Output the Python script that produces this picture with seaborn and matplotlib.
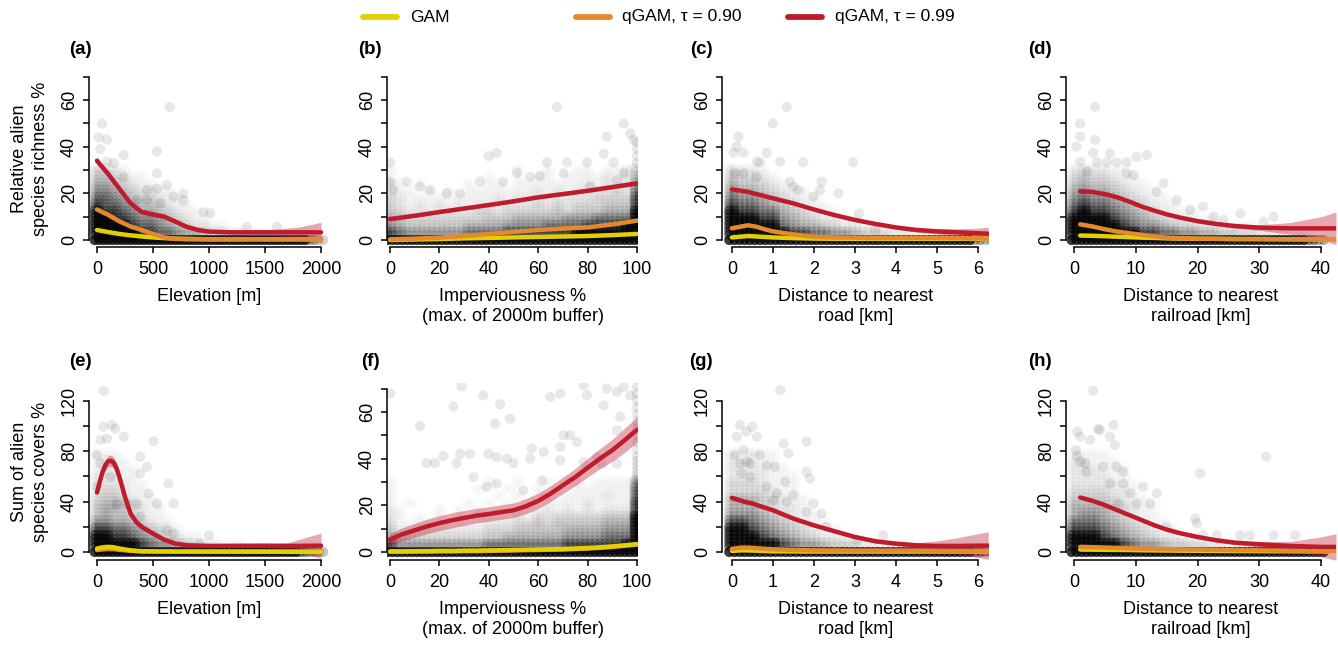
import matplotlib
matplotlib.use("Agg")
import matplotlib.pyplot as plt
import seaborn as sns
import numpy as np
from matplotlib.lines import Line2D

sns.set_style("ticks")
plt.rcParams['font.family'] = ['Liberation Sans', 'DejaVu Sans']
plt.rcParams['text.color'] = 'black'
plt.rcParams['axes.labelcolor'] = 'black'
plt.rcParams['axes.edgecolor'] = 'black'
plt.rcParams['xtick.color'] = 'black'
plt.rcParams['ytick.color'] = 'black'

# ---------------- legend ----------------
legend_labels = ["GAM", "qGAM, \u03c4 = 0.90", "qGAM, \u03c4 = 0.99"]
C_GAM, C_Q90, C_Q99 = "#E3D000", "#E48A2E", "#BF1B2C"

# ---------------- axis texts ----------------
panel_letters = ["(a)", "(b)", "(c)", "(d)", "(e)", "(f)", "(g)", "(h)"]
xlabels = ["Elevation [m]", "Imperviousness %\n(max. of 2000m buffer)",
           "Distance to nearest\nroad [km]", "Distance to nearest\nrailroad [km]"]
ylabels = ["Relative alien\nspecies richness %", "Sum of alien\nspecies covers %"]
xticks = [[0, 500, 1000, 1500, 2000], [0, 20, 40, 60, 80, 100],
          [0, 1, 2, 3, 4, 5, 6], [0, 10, 20, 30, 40]]

# ---------------- curves: (a) ----------------
a_x = [0, 100, 200, 300, 400, 500, 600, 700, 800, 900, 1000, 1200, 1500, 1800, 2000]
a_q99 = [34, 28.3, 22, 15.7, 12, 11, 10, 7.9, 5.7, 4.3, 3.6, 3.3, 3.3, 3.3, 3.3]
a_q99_hw = [1.5, 1.2, 1.0, 1.0, 1.0, 1.0, 1.0, 1.0, 0.9, 0.8, 0.8, 0.8, 1.0, 2.2, 4.3]
a_q90 = [13.1, 10.8, 8.0, 5.8, 4.3, 2.6, 1.1, 0.5, 0.3, 0.3, 0.3, 0.3, 0.3, 0.3, 0.3]
a_gam = [4.3, 3.4, 2.6, 2.0, 1.5, 1.1, 0.8, 0.6, 0.5, 0.4, 0.3, 0.3, 0.3, 0.3, 0.3]
# ---------------- curves: (b) ----------------
b_x = [0, 10, 20, 30, 40, 50, 60, 70, 80, 90, 100]
b_q99 = [9.0, 10.4, 12.0, 13.5, 15.0, 16.6, 18.3, 19.7, 21.1, 22.7, 24.3]
b_q99_hw = [0.8, 0.7, 0.7, 0.7, 0.7, 0.7, 0.7, 0.7, 0.7, 0.8, 0.9]
b_q90 = [0.3, 0.6, 1.0, 1.7, 2.6, 3.5, 4.3, 4.9, 5.4, 6.7, 8.3]
b_gam = [0.0, 0.2, 0.4, 0.7, 0.9, 1.1, 1.3, 1.5, 1.7, 2.1, 2.6]
# ---------------- curves: (c) ----------------
c_x = [0, 0.2, 0.4, 0.6, 0.8, 1.0, 1.5, 2.0, 2.5, 3.0, 3.5, 4.0, 4.5, 5.0, 5.5, 6.0, 6.25]
c_q99 = [21.7, 21.2, 20.6, 19.7, 18.8, 17.9, 15.7, 13.1, 10.7, 8.6, 6.9, 5.4, 4.3, 3.7, 3.3, 2.9, 2.7]
c_q99_hw = [0.8, 0.7, 0.7, 0.7, 0.7, 0.7, 0.7, 0.7, 0.7, 0.7, 0.8, 0.8, 0.9, 1.1, 1.5, 2.2, 2.8]
c_q90 = [5.0, 5.7, 6.3, 5.7, 4.6, 3.7, 2.4, 1.4, 1.1, 1.0, 0.9, 0.9, 0.9, 0.9, 0.8, 0.7, 0.6]
c_gam = [1.1, 1.4, 1.7, 1.5, 1.3, 1.1, 0.8, 0.6, 0.5, 0.5, 0.5, 0.5, 0.5, 0.5, 0.5, 0.5, 0.5]
# ---------------- curves: (d) ----------------
d_x = [1, 3, 5, 7, 9, 11, 13, 15, 17, 20, 23, 26, 30, 35, 40, 42.4]
d_q99 = [20.9, 20.6, 19.7, 18.3, 16.4, 14.3, 12.6, 11.0, 9.7, 8.1, 6.9, 6.0, 5.3, 5.0, 5.0, 5.0]
d_q99_hw = [0.8, 0.7, 0.7, 0.7, 0.7, 0.7, 0.7, 0.7, 0.7, 0.8, 0.8, 0.9, 1.2, 2.5, 5.0, 7.0]
d_q90 = [6.7, 5.8, 4.6, 3.6, 2.9, 2.2, 1.6, 1.0, 0.8, 0.6, 0.5, 0.4, 0.4, 0.3, 0.3, 0.3]
d_gam = [1.9, 1.8, 1.6, 1.4, 1.2, 1.0, 0.9, 0.7, 0.6, 0.5, 0.5, 0.4, 0.4, 0.3, 0.3, 0.3]
# ---------------- curves: (e) ----------------
e_x = [0, 25, 50, 75, 100, 125, 150, 175, 200, 250, 300, 350, 400, 500, 600, 700, 800, 1000, 1500, 1700, 2000]
e_q99 = [47.3, 55.7, 63.7, 69, 72.2, 72.5, 70.9, 66.4, 59.7, 43.8, 30.5, 23.9, 19.9, 14.6, 9.8, 6.6, 5.3, 4.8, 5.0, 4.8, 5.0]
e_q99_hw = [3, 3, 3.5, 4, 4.5, 4.5, 4.5, 4, 4, 3.5, 3, 2.5, 2, 1.5, 1.5, 1.2, 1, 1, 1.2, 2.5, 10]
e_q90 = [1.5, 1.8, 2.0, 2.2, 2.3, 2.3, 2.2, 2.0, 1.7, 1.3, 0.9, 0.6, 0.4, 0.3, 0.3, 0.3, 0.3, 0.3, 0.3, 0.3, 0.3]
e_gam = [2.7, 3.2, 3.6, 3.9, 4.0, 3.9, 3.7, 3.2, 2.7, 2.0, 1.3, 0.9, 0.6, 0.5, 0.4, 0.3, 0.3, 0.3, 0.2, 0.1, 0.0]
# ---------------- curves: (f) ----------------
f_x = [0, 5, 10, 15, 20, 25, 30, 35, 40, 45, 50, 55, 60, 65, 70, 75, 80, 85, 90, 95, 100]
f_q99 = [5.4, 7.6, 9.3, 11.0, 12.4, 13.6, 14.6, 15.6, 16.3, 17.1, 17.9, 19.6, 21.9, 25.0, 28.6, 32.1, 36.1, 40.0, 43.6, 47.9, 52.4]
f_q99_hw = [2.5, 2.8, 3.0, 3.1, 3.2, 3.2, 3.2, 3.1, 3.1, 3.1, 3.1, 3.2, 3.3, 3.4, 3.5, 3.7, 4.0, 4.3, 4.7, 5.2, 5.4]
f_q90 = [0.1, 0.1, 0.2, 0.2, 0.3, 0.3, 0.4, 0.4, 0.5, 0.6, 0.7, 0.8, 0.9, 1.0, 1.1, 1.3, 1.5, 1.8, 2.2, 2.7, 3.2]
f_gam = [0.3, 0.3, 0.4, 0.4, 0.5, 0.5, 0.6, 0.6, 0.7, 0.8, 0.9, 1.0, 1.1, 1.2, 1.3, 1.5, 1.7, 2.0, 2.4, 2.9, 3.4]
# ---------------- curves: (g) ----------------
g_x = [0, 0.15, 0.3, 0.5, 0.75, 1.0, 1.5, 2.0, 2.5, 3.0, 3.5, 4.0, 4.5, 5.0, 5.5, 6.0, 6.25]
g_q99 = [43, 41.5, 40, 38.5, 35.8, 33.2, 26.5, 21.2, 16.5, 11.9, 8.5, 6.6, 5.3, 4.8, 4.8, 5.0, 5.0]
g_q99_hw = [2, 1.8, 1.7, 1.6, 1.5, 1.5, 1.5, 1.5, 1.5, 1.5, 1.5, 1.5, 2, 4, 6.5, 9.5, 11]
g_q90 = [2.4, 3.1, 3.5, 3.2, 2.6, 2.1, 1.6, 1.3, 1.2, 1.1, 1.1, 1.1, 1.1, 1.0, 0.9, 0.8, 0.8]
g_gam = [0.8, 1.1, 1.3, 1.1, 0.8, 0.5, 0.4, 0.3, 0.3, 0.3, 0.3, 0.3, 0.3, 0.3, 0.3, 0.3, 0.3]
# ---------------- curves: (h) ----------------
h_x = [1, 3, 5, 7, 9, 11, 13, 15, 17, 20, 23, 26, 30, 35, 40, 42.4]
h_q99 = [43.3, 40.6, 37.2, 33.2, 29.2, 25.2, 21.2, 17.8, 15.1, 11.9, 9.3, 7.4, 6.1, 4.8, 4.0, 4.0]
h_q99_hw = [1.5, 1.4, 1.3, 1.3, 1.3, 1.3, 1.3, 1.3, 1.3, 1.3, 1.3, 1.5, 2, 3.5, 8, 10.5]
h_q90 = [4.0, 3.8, 3.5, 3.2, 2.9, 2.6, 2.4, 2.2, 2.1, 1.9, 1.7, 1.5, 1.3, 1.0, 0.8, 0.8]
h_gam = [1.9, 1.8, 1.7, 1.6, 1.5, 1.3, 1.2, 1.1, 1.0, 0.9, 0.8, 0.7, 0.6, 0.5, 0.4, 0.4]

# ---------------- sparse observations (outlying points) ----------------
a_pts_x = [650, 45, 15, 89, 535, 238, 30, 89, 149, 238, 535, 446, 535, 624, 773, 773, 951, 1010, 1337, 1605, 446, 357, 683, 565]
a_pts_y = [57, 50, 44, 43, 38, 36.4, 39, 33.6, 33, 27, 28.6, 21.4, 22, 23.6, 17, 20, 12, 11.4, 5.7, 5.7, 17.1, 17, 18.6, 15.7]
b_pts_x = [67.6, 94.6, 87.8, 98.6, 39.9, 43.2, 0, 71.6, 63.5, 79.7, 90.5, 86.5, 51.4, 56.8, 60.8, 6.8, 12.2, 16.2, 23, 28.4, 36.5, 45.9, 0, 1.4, 91.9, 70.3, 81, 94.6, 97.3, 100, 100, 100, 100]
b_pts_y = [57, 50, 44.3, 42.9, 36, 37.4, 33.3, 33.3, 33.3, 33.3, 33.3, 37, 28.9, 27.1, 27.4, 25, 22.9, 21.4, 20, 20, 25, 25, 25, 21.4, 25.7, 28.6, 22.9, 28.6, 45.7, 33, 36, 39, 42]
c_pts_x = [1.34, 1.0, 0.16, 0.12, 0.04, 0.28, 0.61, 0.69, 0.85, 1.74, 1.18, 2.96, 0.08, 0.28, 0.61, 1.42, 2.19, 2.15, 2.6, 1.62, 1.99, 1.5, 3.1, 3.5]
c_pts_y = [57, 50, 44.3, 40, 37.4, 37.4, 33.6, 33.3, 37.4, 33.3, 33.6, 33.3, 28.6, 28.6, 27.1, 25, 25, 21.4, 20, 21.4, 18.6, 22.9, 11.4, 4.3]
d_pts_x = [3.4, 1.0, 1.0, 3.4, 0.4, 3.1, 5.8, 11.8, 10.1, 1, 3.7, 5.3, 6.9, 8.5, 2.1, 8.5, 9.6, 14.5, 13.4, 16.6, 18.8, 20.9, 26.9, 32.3, 30.7, 24.2, 22.6]
d_pts_y = [57.1, 50, 44.3, 42.9, 40, 37.4, 37, 36.4, 35.7, 33.6, 33.3, 33.3, 33.3, 33.3, 29.3, 28.6, 27.9, 24.3, 20.7, 17.1, 12.9, 14.3, 11.4, 10, 7.9, 8.6, 10]
e_pts_x = [59, 59, 134, 163, 30, 89, 238, 505, 0, 386, 446, 386, 639, 460, 535, 683, 357, 267, 178, 386, 624, 683, 1000, 920, 0, 30, 119]
e_pts_y = [128, 99.5, 101, 98, 89, 90, 91.6, 88, 77, 75.7, 67.7, 62.4, 54.4, 46.5, 38.5, 38.5, 38.5, 38.5, 38.5, 27.9, 17.3, 14.6, 13.3, 6.6, 51.8, 70.3, 59.7]
f_pts_x = [0, 29, 25.7, 12.2, 37.8, 44.6, 42.6, 48.6, 14.9, 18.2, 21.6, 28.4, 32.4, 27, 39.9, 43.2, 47.3, 50, 56.8, 62.2, 64.9, 68.9, 78.4, 79.7, 86.5, 87.8, 91.9, 94.6, 97.3, 70.3, 73, 75.7, 68.9, 57.4, 83.8, 39.2, 33.8, 43.2, 54, 61.5, 91.9, 93.2, 68.9, 78.4, 85.8, 91.9,
           100, 100, 100, 100, 100, 100, 100, 100, 100, 100, 100, 100, 100, 100, 100, 100, 100, 100, 100, 100, 100, 100]
f_pts_y = [67.9, 71, 62.4, 53.9, 67.1, 63.3, 55, 57.1, 38.1, 38.1, 41.1, 42.1, 42.1, 38.1, 42.1, 40.7, 40, 38.1, 40, 42.9, 66.4, 67.9, 71.4, 67.1, 62.9, 70, 68.6, 70.7, 67.1, 50, 50, 47.1, 45, 44.3, 40.7, 27.9, 32.1, 29.3, 26.4, 30.7, 52.1, 57.9, 39.3, 38.6, 37.9, 37.9,
           71, 68, 65, 62, 59, 56, 53, 50, 47, 44, 41, 39, 37, 35, 33, 31, 29, 27, 25, 23, 21, 13]
g_pts_x = [1.18, 0.2, 0.49, 0.36, 0.12, 0.61, 0.08, 0.28, 0.69, 0.36, 0.2, 0.45, 1.26, 1.82, 1.38, 0.85, 1.05, 0.24, 0.45, 0.85, 1.3, 1.82, 1.91, 1.01, 1.34, 1.5, 1.99, 1.82, 2.19, 2.31, 3.04, 3.69, 1.1]
g_pts_y = [128.7, 100.9, 99.5, 95.6, 91.6, 91.6, 77, 81, 77, 71.7, 70.3, 70.3, 86.3, 87.6, 78.3, 69, 67.7, 62.4, 59.7, 51.8, 55.7, 63.7, 58.4, 41.1, 39.8, 45.1, 38.5, 31.9, 30.5, 19.9, 9.3, 13.3, 46.5]
h_pts_x = [3.1, 6.4, 3.9, 4.2, 0.5, 1, 2.6, 5.8, 6.6, 0.3, 0.5, 1, 1.8, 6.9, 8, 2, 4.7, 5.8, 8, 9.1, 11.2, 13.4, 12.3, 10.1, 7.2, 20.4, 19.6, 19.9, 15, 31.1, 26.9, 28.5, 32.3, 35.8, 23.1, 20.9]
h_pts_y = [128.2, 101, 97.7, 96.9, 95.6, 91.6, 89, 91.6, 84.9, 81, 76.2, 71.7, 70.3, 67.7, 63.7, 63.7, 67.7, 54.4, 54.4, 46.5, 51.8, 46.5, 38.5, 38.5, 38.5, 62.4, 26.5, 22.6, 19.9, 75.7, 13.3, 13.3, 13.3, 13.3, 13.3, 13.3]

# ---------------- dense observations: estimated darkness per cell (0-9) ----------------
# rows run from the highest y bin (first) down to y = 0 (last)
a_xbins = [80 * i for i in range(26)]
b_xbins = [4 * i for i in range(26)]
c_xbins = [0.25 * i for i in range(26)]
d_xbins = [1.6 * i for i in range(26)]
top_ybins = [3 * i for i in range(11)]
low_ybins = [6 * i for i in range(14)]
f_ybins = [3 * i for i in range(11)]

a_dens = ["33210000000000000000000000",
          "44321100000000000000000000",
          "55432110000000000000000000",
          "66543221100000000000000000",
          "77654332110000000000000000",
          "87765443211000000000000000",
          "98876554321100000000000000",
          "99887665432110000000000000",
          "99998776543221100000000000",
          "99999887765543322111111100",
          "99999999999999999999999975"]
b_dens = ["10000000000001001001101124",
          "10000000001001011011112125",
          "21010000101101111111212226",
          "21101010111111121212222327",
          "32111111111212222222233338",
          "32121212122222232323334448",
          "43222222233233333434445559",
          "54333333334445555566677779",
          "65444444555566667777888899",
          "87666666777788888889999999",
          "99999999999999999999999999"]
c_dens = ["32210000000000000000000000",
          "43321000000000000000000000",
          "54432100000000000000000000",
          "65543211000000000000000000",
          "76654321100000000000000000",
          "87765432110000000000000000",
          "98877543211000000000000000",
          "99988654322110000000000000",
          "99999765543221100000000000",
          "99999988776654332211110000",
          "99999999999999999999999976"]
d_dens = ["23221100000000000000000000",
          "34332110000000000000000000",
          "45443211000000000000000000",
          "56554321100000000000000000",
          "67665432110000000000000000",
          "78776543211000000000000000",
          "89887654321110000000000000",
          "99998765432211100000000000",
          "99999876654332211110000000",
          "99999998877665544332221100",
          "99999999999999999999999987"]
e_dens = ["11100000000000000000000000",
          "12110000000000000000000000",
          "12111000000000000000000000",
          "22211000000000000000000000",
          "22221100000000000000000000",
          "23321100000000000000000000",
          "34432110000000000000000000",
          "45543211000000000000000000",
          "45443211000000000000000000",
          "66554321100000000000000000",
          "88776543210000000000000000",
          "99887654321100000000000000",
          "99999876654322111000000000",
          "99999999999999999999999876"]
f_dens = ["10000000001001001011011116",
          "10000000010010010101111117",
          "10000000000101011011112117",
          "10100000101010101111211118",
          "21000101010101112121212228",
          "21010101011112132333334449",
          "31111111112223343444445559",
          "42222222223334444455556669",
          "53333333334455555566667779",
          "86666666667777777788888899",
          "99999999999999999999999999"]
g_dens = ["21211000000000000000000000",
          "22211000000000000000000000",
          "22221100000000000000000000",
          "22221110000000000000000000",
          "33321110000000000000000000",
          "33332110000000000000000000",
          "55543211000000000000000000",
          "55543221000000000000000000",
          "66654321100000000000000000",
          "88765432110000000000000000",
          "99876543211000000000000000",
          "99987654322110000000000000",
          "99999876654432211000000000",
          "99999999999999999999999987"]
h_dens = ["11110000000000000000000000",
          "22111000000000000000000000",
          "22211100000000000000000000",
          "22221100000000000000000000",
          "22222110000000000000000000",
          "33332210000000000000000000",
          "44443211000000000000000000",
          "55554321100000000000000000",
          "56654321100000000000000000",
          "77765432110000000000000000",
          "88876543211000000000000000",
          "99987654322110000000000000",
          "99999876654433221110000000",
          "99999999999999999999999999"]

# darkness reached by a cell at each level
LEVEL_DARK = [0, 0.05, 0.10, 0.16, 0.23, 0.32, 0.43, 0.57, 0.75, 0.96]

W, H = 1338, 646
fig = plt.figure(figsize=(W / 100, H / 100), dpi=100)

# pixel boxes (left, top, right, bottom) and axis limits
col_px = [(89, 330), (387, 638), (722, 989), (1066, 1336)]
row_px = [(70, 247), (383, 560)]
xlims = [(-71, 2080), (-1.2, 100.4), (-0.24, 6.27), (-1.3, 42.4)]

panels = [
    dict(x=a_x, q99=a_q99, hw=a_q99_hw, q90=a_q90, gam=a_gam, px=a_pts_x, py=a_pts_y, dens=a_dens, xb=a_xbins, yb=top_ybins),
    dict(x=b_x, q99=b_q99, hw=b_q99_hw, q90=b_q90, gam=b_gam, px=b_pts_x, py=b_pts_y, dens=b_dens, xb=b_xbins, yb=top_ybins),
    dict(x=c_x, q99=c_q99, hw=c_q99_hw, q90=c_q90, gam=c_gam, px=c_pts_x, py=c_pts_y, dens=c_dens, xb=c_xbins, yb=top_ybins),
    dict(x=d_x, q99=d_q99, hw=d_q99_hw, q90=d_q90, gam=d_gam, px=d_pts_x, py=d_pts_y, dens=d_dens, xb=d_xbins, yb=top_ybins),
    dict(x=e_x, q99=e_q99, hw=e_q99_hw, q90=e_q90, gam=e_gam, px=e_pts_x, py=e_pts_y, dens=e_dens, xb=a_xbins, yb=low_ybins),
    dict(x=f_x, q99=f_q99, hw=f_q99_hw, q90=f_q90, gam=f_gam, px=f_pts_x, py=f_pts_y, dens=f_dens, xb=b_xbins, yb=f_ybins),
    dict(x=g_x, q99=g_q99, hw=g_q99_hw, q90=g_q90, gam=g_gam, px=g_pts_x, py=g_pts_y, dens=g_dens, xb=c_xbins, yb=low_ybins),
    dict(x=h_x, q99=h_q99, hw=h_q99_hw, q90=h_q90, gam=h_gam, px=h_pts_x, py=h_pts_y, dens=h_dens, xb=d_xbins, yb=low_ybins),
]

MS = 54  # marker area (pt^2)
FS_TICK, FS_LAB = 13, 13


def draw_density(ax, rows, xb, yb):
    """Each cell is drawn as a small 2x2 block of translucent discs
    (a single row of discs for the y = 0 bin)."""
    xs, ys, cols = [], [], []
    sx = xb[1] - xb[0]
    sy = yb[1] - yb[0]
    n = len(rows)
    for r, row in enumerate(rows):
        yi = n - 1 - r
        if yi == 0:
            offs = [(-sx / 4, 0), (sx / 4, 0)]
            cover = 2.2
        else:
            offs = [(-sx / 4, -sy / 4), (sx / 4, -sy / 4), (-sx / 4, sy / 4), (sx / 4, sy / 4)]
            cover = 4.5
        for i, ch in enumerate(row):
            d = int(ch)
            if d == 0:
                continue
            a = 1 - (1 - LEVEL_DARK[d]) ** (1 / cover)
            for ox, oy in offs:
                xs.append(xb[i] + ox)
                ys.append(yb[yi] + oy)
                cols.append((0, 0, 0, a))
    ax.scatter(xs, ys, s=MS, c=cols, edgecolors='none', zorder=1)


for k, p in enumerate(panels):
    row, col = divmod(k, 4)
    l, r = col_px[col]
    t, b = row_px[row]
    ax = fig.add_axes([l / W, 1 - b / H, (r - l) / W, (b - t) / H])

    if row == 0:
        ylim, ytop, yt = (-3.0, 72.9), 70, list(range(0, 71, 10))
        ytl = ["0", "", "20", "", "40", "", "60", ""]
    elif col == 1:
        ylim, ytop, yt = (-3.4, 72.4), 70, list(range(0, 71, 10))
        ytl = ["0", "", "20", "", "40", "", "60", ""]
    else:
        ylim, ytop, yt = (-6.4, 134.3), 120, list(range(0, 121, 20))
        ytl = ["0", "", "40", "", "80", "", "120"]

    draw_density(ax, p["dens"], p["xb"], p["yb"])
    sns.scatterplot(x=p["px"], y=p["py"], ax=ax, s=MS, color="black", alpha=0.09,
                    edgecolor="none", linewidth=0, legend=False, zorder=2)

    xs = np.array(p["x"], float)
    q99 = np.array(p["q99"], float)
    hw = np.array(p["hw"], float)
    ax.fill_between(xs, q99 - hw, q99 + hw, color=C_Q99, alpha=0.38, lw=0, zorder=3)

    lw = 3.2
    if row == 1 and col in (0, 1):
        order = [(p["q90"], C_Q90), (p["gam"], C_GAM), (p["q99"], C_Q99)]
    else:
        order = [(p["gam"], C_GAM), (p["q90"], C_Q90), (p["q99"], C_Q99)]
    for z, (yv, c) in enumerate(order):
        sns.lineplot(x=xs, y=yv, ax=ax, color=c, linewidth=lw, solid_capstyle="round",
                     legend=False, zorder=4 + z)

    ax.set_xlim(*xlims[col])
    ax.set_ylim(*ylim)
    for s in ("top", "right"):
        ax.spines[s].set_visible(False)
    ax.spines["left"].set_bounds(0, ytop)
    ax.spines["bottom"].set_bounds(xticks[col][0], xticks[col][-1])
    for s in ("left", "bottom"):
        ax.spines[s].set_linewidth(1.1)
        ax.spines[s].set_color("black")
        ax.spines[s].set_zorder(10)

    ax.set_xticks(xticks[col])
    ax.set_xticklabels([str(v) for v in xticks[col]])
    ax.set_yticks(yt)
    ax.set_yticklabels(ytl)
    ax.tick_params(axis="both", direction="out", length=4, width=1.1,
                   labelsize=FS_TICK, colors="black")
    ax.tick_params(axis="x", pad=6)
    ax.tick_params(axis="y", pad=4, labelrotation=90)
    for lbl in ax.get_yticklabels():
        lbl.set_va("center")

    ax.set_xlabel(xlabels[col], fontsize=FS_LAB, linespacing=1.25, color="black")
    ax.xaxis.set_label_coords(0.5, -0.232)
    if col == 0:
        ax.set_ylabel(ylabels[row], fontsize=FS_LAB, linespacing=1.25, color="black")
        ax.yaxis.set_label_coords(-0.168, 0.5)

    # panel letter
    letter_x = [80, 370, 701, 1040][col]
    letter_y = [50, 362][row]
    fig.text(letter_x / W, 1 - letter_y / H, panel_letters[k], fontsize=13.5,
             fontweight="bold", ha="center", va="center", color="black")

# top legend
for i, (lab, c) in enumerate(zip(legend_labels, [C_GAM, C_Q90, C_Q99])):
    x0 = 363 + 212.5 * i
    fig.add_artist(Line2D([x0 / W, (x0 + 34) / W], [1 - 17 / H, 1 - 17 / H],
                          transform=fig.transFigure, color=c, lw=4.2,
                          solid_capstyle="round"))
    fig.text((x0 + 47) / W, 1 - 17 / H, lab, fontsize=12.5, ha="left", va="center",
             color="black")

fig.savefig("out.png", dpi=100)
